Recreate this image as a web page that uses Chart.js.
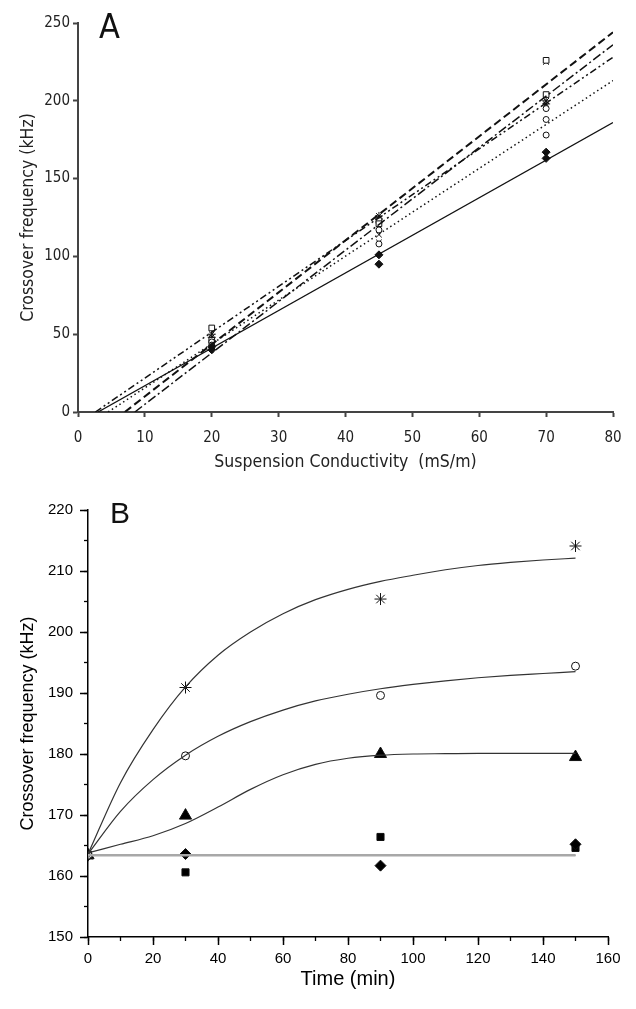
<!DOCTYPE html>
<html>
<head>
<meta charset="utf-8">
<script src="https://cdn.jsdelivr.net/npm/chart.js@4.4.1/dist/chart.umd.min.js"></script>
<style>
  html, body { margin: 0; padding: 0; background: #fff; }
  #wrapA { position: absolute; left: 0; top: 0; width: 636px; height: 480px; }
  #wrapB { position: absolute; left: 0; top: 480px; width: 636px; height: 529px; }
</style>
</head>
<body>
<div id="wrapA"><canvas id="chartA" width="636" height="480"></canvas></div>
<div id="wrapB"><canvas id="chartB" width="636" height="529"></canvas></div>
<script>
// ---- panel A : crossover frequency vs suspension conductivity ----
const condX      = [20, 20, 45, 45, 70, 70];
const condX3     = [20, 20, 45, 45, 70, 70, 70];
const diamondA   = [42, 40, 101, 95, 167, 163];
const circleA    = [45, 43, 117, 108, 195, 188, 178];
const squareA    = [54, 46, 123, 121, 226, 204];
const crossA     = [46, 44, 114, 109, 225, 200, 197];
const starA      = [50, 48, 126, 124, 200, 198];
// linear fits: x where the fit crosses 0 kHz, and fit value at 80 mS/m
const fitStartX  = [3, 4.5, 7, 8.5, 2.6];
const fitEndY    = [186, 213, 244, 236, 228];

// ---- panel B : crossover frequency vs time ----
const timeX      = [0, 30, 90, 150];
const starB      = [163.4, 190.9, 205.4, 214.1];
const circleB    = [163.4, 179.7, 189.6, 194.4];
const triangleB  = [163.4, 169.9, 180.0, 179.5];
const diamondB   = [163.4, 163.6, 161.7, 165.2];
const squareB    = [163.4, 160.6, 166.4, 164.6];
// fitted curves
const curveT        = [0, 10, 20, 30, 40, 50, 60, 70, 80, 90, 100, 110, 120, 130, 140, 150];
const curveStar     = [163.6, 175.3, 184.0, 191, 196.2, 200, 203, 205.3, 207, 208.3, 209.3, 210.2, 210.9, 211.4, 211.8, 212.1];
const curveCircle   = [163.6, 170.6, 175.8, 179.8, 182.9, 185.3, 187.2, 188.7, 189.8, 190.7, 191.4, 192.0, 192.5, 192.9, 193.2, 193.5];
const curveTriangle = [163.8, 165.2, 166.6, 168.6, 171.3, 174.2, 176.6, 178.3, 179.3, 179.8, 180.0, 180.05, 180.1, 180.1, 180.1, 180.1];
const flatT         = [0, 150];
const flatFit       = [163.4, 163.4];

const zip = (xs, ys) => ys.map((y, i) => ({ x: xs[i], y: y }));

const panelLabel = {
  id: 'panelLabel',
  afterDraw(chart, args, opts) {
    const ctx = chart.ctx;
    ctx.save();
    ctx.font = opts.font;
    ctx.fillStyle = '#111';
    ctx.textBaseline = 'alphabetic';
    ctx.fillText(opts.text, opts.x, opts.y);
    ctx.restore();
  }
};

const fontA = "'DejaVu Sans Condensed', 'DejaVu Sans', sans-serif";
const fontB = "'Liberation Sans', Arial, sans-serif";

// panel A
const lineStyles = [
  { dash: [], width: 1.3 },
  { dash: [1.5, 3], width: 1.5 },
  { dash: [8, 4], width: 2 },
  { dash: [9, 3, 2, 3], width: 1.5 },
  { dash: [7, 3, 2, 3, 2, 3], width: 1.5 }
];
const fitSets = fitStartX.map((x0, i) => ({
  data: [{ x: x0, y: 0 }, { x: 80, y: fitEndY[i] }],
  showLine: true,
  pointRadius: 0,
  borderColor: '#111',
  borderWidth: lineStyles[i].width,
  borderDash: lineStyles[i].dash
}));

function markers(data, style, radius, fill) {
  return {
    data: data,
    showLine: false,
    pointStyle: style,
    pointRadius: radius,
    pointBackgroundColor: fill,
    pointBorderColor: '#111',
    pointBorderWidth: 1
  };
}

new Chart(document.getElementById('chartA'), {
  type: 'scatter',
  data: {
    datasets: fitSets.concat([
      markers(zip(condX, diamondA), 'rectRot', 4, '#111'),
      markers(zip(condX3, circleA), 'circle', 3, '#fff'),
      markers(zip(condX, squareA), 'rect', 4, '#fff'),
      markers(zip(condX3, crossA), 'crossRot', 4, '#111'),
      markers(zip(condX, starA), 'star', 4, '#111')
    ])
  },
  options: {
    responsive: false,
    animation: false,
    layout: { padding: { top: 23, right: 23, left: 0, bottom: 0 } },
    plugins: {
      legend: { display: false },
      tooltip: { enabled: false },
      panelLabel: { text: 'A', x: 99, y: 38, font: "34px " + fontA }
    },
    scales: {
      x: {
        type: 'linear', min: 0, max: 80,
        ticks: { stepSize: 10, color: '#222', padding: 12, font: { family: fontA, size: 15 } },
        grid: { drawOnChartArea: false, tickLength: 5, tickColor: '#444', tickWidth: 2 },
        border: { color: '#444', width: 2 },
        title: { display: true, text: 'Suspension Conductivity  (mS/m)', color: '#222',
                 font: { family: fontA, size: 17.5 }, padding: { bottom: 7.5 } },
        afterFit: s => { s.height = 68; }
      },
      y: {
        type: 'linear', min: 0, max: 250,
        ticks: { stepSize: 50, color: '#222', padding: 3, font: { family: fontA, size: 15 } },
        grid: { drawOnChartArea: false, tickLength: 5, tickColor: '#444', tickWidth: 2 },
        border: { color: '#444', width: 2 },
        title: { display: true, text: 'Crossover frequency (kHz)', color: '#222',
                 font: { family: fontA, size: 17.5 }, padding: { top: 17.5 } },
        afterFit: s => { s.width = 78; }
      }
    }
  },
  plugins: [panelLabel]
});

// panel B
function curve(xs, ys, color, width) {
  return {
    data: zip(xs, ys),
    showLine: true,
    pointRadius: 0,
    borderColor: color,
    borderWidth: width,
    cubicInterpolationMode: 'monotone'
  };
}

new Chart(document.getElementById('chartB'), {
  type: 'scatter',
  data: {
    datasets: [
      curve(flatT, flatFit, '#a8a8a8', 2.5),
      curve(flatT, flatFit, '#555', 1),
      curve(curveT, curveStar, '#333', 1.2),
      curve(curveT, curveCircle, '#333', 1.2),
      curve(curveT, curveTriangle, '#333', 1.2),
      markers(zip(timeX, starB), 'star', 6, '#111'),
      markers(zip(timeX, circleB), 'circle', 4, '#fff'),
      markers(zip(timeX, triangleB), 'triangle', 7, '#000'),
      markers(zip(timeX, diamondB), 'rectRot', 5.5, '#000'),
      markers(zip(timeX, squareB), 'rect', 5, '#000')
    ]
  },
  options: {
    responsive: false,
    animation: false,
    layout: { padding: { top: 30, right: 28, left: 0, bottom: 0 } },
    plugins: {
      legend: { display: false },
      tooltip: { enabled: false },
      panelLabel: { text: 'B', x: 110, y: 43, font: "30px " + fontB }
    },
    scales: {
      x: {
        type: 'linear', min: 0, max: 160, weight: 1,
        ticks: { stepSize: 20, color: '#000', padding: 5, font: { family: fontB, size: 15 } },
        grid: { drawOnChartArea: false, tickLength: 8, tickColor: '#000', tickWidth: 1.5 },
        border: { color: '#000', width: 1.5 },
        title: { display: true, text: 'Time (min)', color: '#000',
                 font: { family: fontB, size: 20 }, padding: { bottom: 18 } },
        afterFit: s => { s.height = 72; }
      },
      xMinor: {
        type: 'linear', axis: 'x', position: 'bottom', min: 0, max: 160, weight: 0,
        ticks: { stepSize: 10, display: false },
        grid: { drawOnChartArea: false, tickLength: 4, tickColor: '#000', tickWidth: 1.3 },
        border: { display: false },
        afterFit: s => { s.height = 0; }
      },
      y: {
        type: 'linear', min: 150, max: 220, weight: 1,
        ticks: { stepSize: 10, color: '#000', padding: 7, font: { family: fontB, size: 15 } },
        grid: { drawOnChartArea: false, tickLength: 8, tickColor: '#000', tickWidth: 1.5 },
        border: { color: '#000', width: 1.5 },
        title: { display: true, text: 'Crossover frequency (kHz)', color: '#000',
                 font: { family: fontB, size: 18 }, padding: { top: 17 } },
        afterFit: s => { s.width = 88; }
      },
      yMinor: {
        type: 'linear', axis: 'y', position: 'left', min: 150, max: 220, weight: 0,
        ticks: { stepSize: 5, display: false },
        grid: { drawOnChartArea: false, tickLength: 4, tickColor: '#000', tickWidth: 1.3 },
        border: { display: false },
        afterFit: s => { s.width = 0; }
      }
    }
  },
  plugins: [panelLabel]
});
</script>
</body>
</html>
